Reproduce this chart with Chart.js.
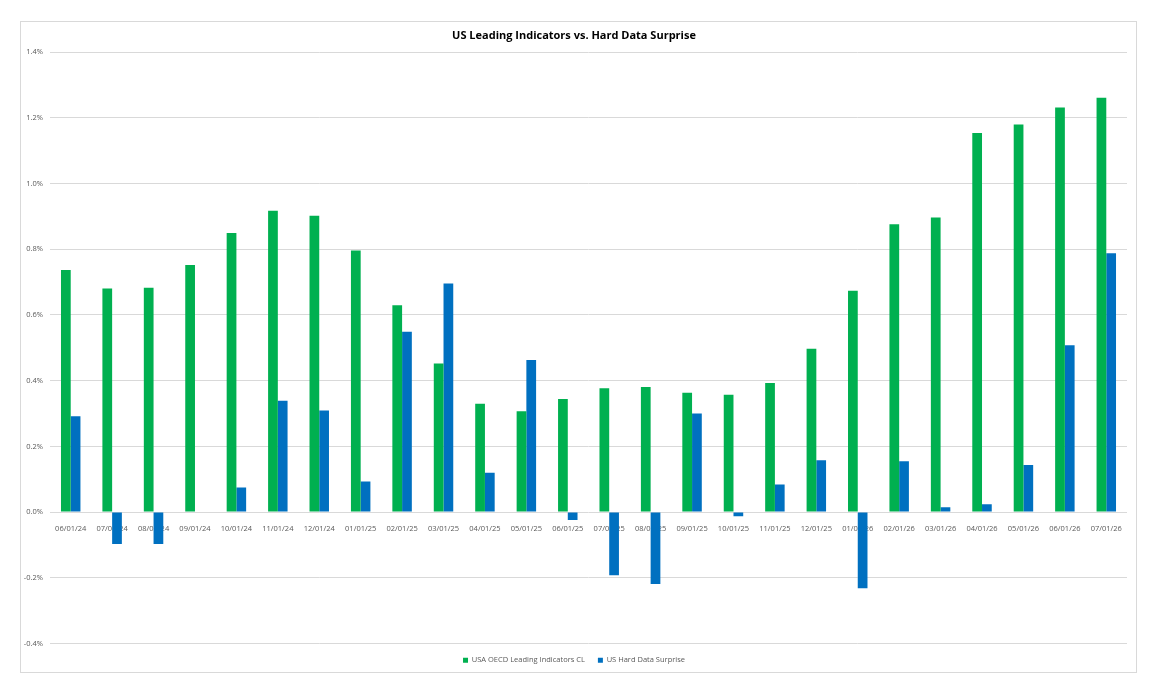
<!DOCTYPE html>
<html>
<head>
<meta charset="utf-8">
<script src="https://cdn.jsdelivr.net/npm/chart.js@4"></script>
<style>
  body { margin: 0; background: #fff; }
  #frame {
    position: absolute; left: 20px; top: 21px;
    width: 1115px; height: 650px;
    border: 1px solid #d9d9d9;
  }
</style>
</head>
<body>
<div id="frame"><canvas id="chartOne"></canvas></div>
<script>
// dates on the x axis
const dates = ['06/01/24','07/01/24','08/01/24','09/01/24','10/01/24','11/01/24','12/01/24',
  '01/01/25','02/01/25','03/01/25','04/01/25','05/01/25','06/01/25','07/01/25','08/01/25',
  '09/01/25','10/01/25','11/01/25','12/01/25','01/01/26','02/01/26','03/01/26','04/01/26',
  '05/01/26','06/01/26','07/01/26'];

// values in percent
const leadingIndicators = [0.737, 0.681, 0.683, 0.752, 0.850, 0.917, 0.902, 0.796, 0.630, 0.452,
  0.330, 0.307, 0.344, 0.377, 0.381, 0.363, 0.357, 0.393, 0.497, 0.674, 0.876, 0.897,
  1.154, 1.180, 1.232, 1.261];
const hardDataSurprise = [0.292, -0.097, -0.097, 0, 0.075, 0.339, 0.309, 0.093, 0.549, 0.696,
  0.120, 0.463, -0.024, -0.192, -0.219, 0.300, -0.013, 0.084, 0.158, -0.232, 0.155, 0.015,
  0.024, 0.143, 0.508, 0.788];

const yTicks = [-0.4, -0.2, 0, 0.2, 0.4, 0.6, 0.8, 1.0, 1.2, 1.4];

const textColor = '#595959';
const font = 'Open Sans';

const createChart = (canvas) => {
  const data = {
    labels: dates,
    datasets: [{
      label: 'USA OECD Leading Indicators CL',
      backgroundColor: '#00b050',
      data: leadingIndicators,
    }, {
      label: 'US Hard Data Surprise',
      backgroundColor: '#0070c0',
      data: hardDataSurprise,
    }]
  };

  const config = {
    type: 'bar',
    data: data,
    options: {
      responsive: true,
      maintainAspectRatio: false,
      animation: false,
      categoryPercentage: 0.47,
      barPercentage: 1.0,
      layout: { padding: { left: 0, right: 9, top: 0, bottom: -2 } },
      plugins: {
        title: {
          display: true,
          text: 'US Leading Indicators vs. Hard Data Surprise',
          color: '#000',
          font: { family: font, size: 11, weight: 'bold' },
          padding: { top: 7, bottom: 10 }
        },
        legend: {
          position: 'bottom',
          labels: {
            color: textColor,
            font: { family: font, size: 7.5 },
            boxWidth: 5, boxHeight: 5,
            padding: 13
          }
        },
        tooltip: { enabled: false }
      },
      scales: {
        x: {
          position: { y: 0 },
          grid: { display: false },
          border: { display: false },
          ticks: {
            color: textColor,
            font: { family: font, size: 7.5 },
            maxRotation: 0,
            autoSkip: false,
            padding: 4
          }
        },
        y: {
          min: -0.4,
          max: 1.4,
          afterBuildTicks: (scale) => { scale.ticks = yTicks.map(v => ({ value: v })); },
          afterFit: (scale) => { scale.width = 29; },
          grid: { color: '#d9d9d9', drawTicks: false },
          border: { display: false },
          ticks: {
            color: textColor,
            font: { family: font, size: 7.5 },
            padding: 7,
            callback: (v) => v.toFixed(1) + '%'
          }
        }
      }
    }
  };

  new Chart(document.getElementById(canvas), config);
};

createChart('chartOne');
</script>
</body>
</html>
